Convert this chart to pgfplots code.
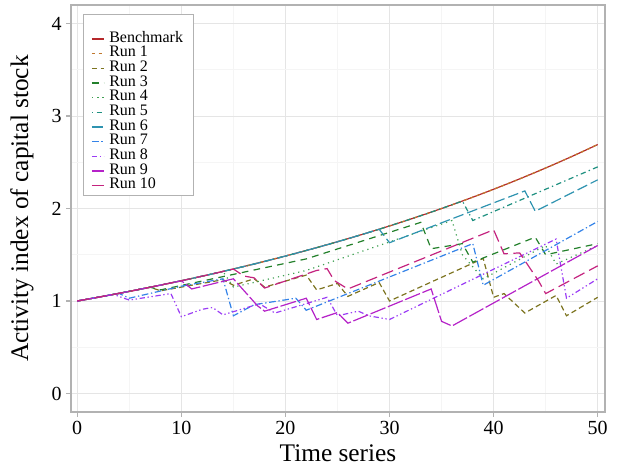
\documentclass[border=0pt]{standalone}
\usepackage{fontspec}
\setmainfont{Liberation Serif}
\usepackage{pgfplots}
\pgfplotsset{compat=1.18}
\definecolor{cB}{HTML}{B5282B}
\definecolor{c1}{HTML}{C0782E}
\definecolor{c2}{HTML}{7D7420}
\definecolor{c3}{HTML}{23802B}
\definecolor{c4}{HTML}{3FA052}
\definecolor{c5}{HTML}{1E9080}
\definecolor{c6}{HTML}{2E93B0}
\definecolor{c7}{HTML}{3483E8}
\definecolor{c8}{HTML}{9B3DF5}
\definecolor{c9}{HTML}{B522C8}
\definecolor{c10}{HTML}{C4237F}
\begin{document}
\begin{tikzpicture}
\begin{axis}[name=ax, scale only axis, width=400.5pt, height=305.25pt,
  xmin=-0.6, xmax=50.7, ymin=-0.2, ymax=4.2,
  xtick={0,10,20,30,40,50}, ytick={0,1,2,3,4},
  minor xtick={5,15,25,35,45}, minor ytick={0.5,1.5,2.5,3.5},
  grid=both, major grid style={color=gray!20, line width=0.6pt},
  minor grid style={color=gray!8, line width=0.5pt},
  axis line style={draw=gray!60, line width=0.8pt},
  tick align=outside, major tick length=3.5pt, minor tick length=0pt,
  tick style={draw=gray!60, line width=0.8pt},
  xtick pos=bottom, ytick pos=left,
  ticklabel style={font=\fontsize{15}{15}\selectfont},
  /pgf/number format/assume math mode=true,
  xlabel={Time series}, ylabel={Activity index of capital stock},
  label style={font=\fontsize{19}{19}\selectfont},
  xlabel style={at={([yshift=-30.75pt]axis description cs:0.5,0)}, anchor=center},
  ylabel style={at={([xshift=-36.75pt]axis description cs:0,0.5)}, anchor=center},
  legend style={at={(0.0225,0.978)}, anchor=north west, draw=gray!60, fill=white,
    font=\fontsize{12}{12}\selectfont, inner xsep=6pt, inner ysep=2.5pt, row sep=1pt,
    column sep=2pt,
    nodes={inner ysep=0pt, inner xsep=1.5pt, text height=7.5pt, text depth=2.5pt}},
  legend cell align=left,
  legend image code/.code={\draw[mark repeat=2,mark phase=2,#1, line width=1pt] plot coordinates {(0pt,0pt) (4.5pt,0pt) (9pt,0pt)};},
  every axis plot/.append style={line width=0.9pt},
]
\addlegendimage{empty legend}\addlegendentry{}
\addplot[cB, solid] coordinates {(0,1.0000)(1,1.0200)(2,1.0404)(3,1.0612)(4,1.0824)(5,1.1041)(6,1.1262)(7,1.1487)(8,1.1717)(9,1.1951)(10,1.2190)(11,1.2434)(12,1.2682)(13,1.2936)(14,1.3195)(15,1.3459)(16,1.3728)(17,1.4002)(18,1.4282)(19,1.4568)(20,1.4859)(21,1.5157)(22,1.5460)(23,1.5769)(24,1.6084)(25,1.6406)(26,1.6734)(27,1.7069)(28,1.7410)(29,1.7758)(30,1.8114)(31,1.8476)(32,1.8845)(33,1.9222)(34,1.9607)(35,1.9999)(36,2.0399)(37,2.0807)(38,2.1223)(39,2.1647)(40,2.2080)(41,2.2522)(42,2.2972)(43,2.3432)(44,2.3901)(45,2.4379)(46,2.4866)(47,2.5363)(48,2.5871)(49,2.6388)(50,2.6916)};
\addlegendentry{Benchmark}
\addplot[c1, dash pattern=on 2.5pt off 2.5pt] coordinates {(0,1.0000)(1,1.0200)(2,1.0404)(3,1.0612)(4,1.0824)(5,1.1041)(6,1.1262)(7,1.1487)(8,1.1717)(9,1.1951)(10,1.2190)(11,1.2434)(12,1.2682)(13,1.2936)(14,1.3195)(15,1.3459)(16,1.3728)(17,1.4002)(18,1.4282)(19,1.4568)(20,1.4859)(21,1.5157)(22,1.5460)(23,1.5769)(24,1.6084)(25,1.6406)(26,1.6734)(27,1.7069)(28,1.7410)(29,1.7758)(30,1.8114)(31,1.8476)(32,1.8845)(33,1.9222)(34,1.9607)(35,1.9999)(36,2.0399)(37,2.0807)(38,2.1223)(39,2.1647)(40,2.2080)(41,2.2522)(42,2.2972)(43,2.3432)(44,2.3901)(45,2.4379)(46,2.4866)(47,2.5363)(48,2.5871)(49,2.6388)(50,2.6916)};
\addlegendentry{Run 1}
\addplot[c2, dash pattern=on 4pt off 2.5pt] coordinates {(0,1.0000)(1,1.0200)(2,1.0404)(3,1.0612)(4,1.0824)(5,1.1041)(6,1.1262)(7,1.1487)(8,1.11)(14,1.23)(15,1.17)(17,1.24)(18,1.15)(22,1.28)(23,1.12)(25,1.19)(26,1.05)(29,1.20)(30,1.00)(39,1.46)(40,1.04)(41,1.08)(43,0.87)(46,1.06)(47,0.84)(50,1.04)};
\addlegendentry{Run 2}
\addplot[c3, dash pattern=on 5pt off 4pt] coordinates {(0,1.0000)(1,1.0200)(2,1.0404)(3,1.0612)(4,1.0824)(5,1.1041)(6,1.1262)(7,1.1487)(8,1.12)(22,1.455)(33,1.85)(34,1.565)(37,1.62)(38,1.42)(44,1.69)(45,1.50)(50,1.62)};
\addlegendentry{Run 3}
\addplot[c4, dash pattern=on 0.9pt off 3pt] coordinates {(0,1.0000)(1,1.0200)(2,1.0404)(3,1.0612)(4,1.0824)(5,1.1041)(6,1.1262)(7,1.1487)(8,1.1717)(9,1.1951)(10,1.2190)(11,1.2434)(12,1.2682)(13,1.2936)(14,1.3195)(15,1.15)(22,1.33)(36,1.87)(37,1.50)(39,1.24)(45,1.60)(46,1.40)(50,1.60)};
\addlegendentry{Run 4}
\addplot[c5, dash pattern=on 1pt off 2.5pt on 4pt off 2.5pt] coordinates {(0,1.0000)(1,1.0200)(2,1.0404)(3,1.0612)(4,1.0824)(5,1.1041)(6,1.1262)(7,1.1487)(8,1.1717)(9,1.1951)(10,1.2190)(11,1.2434)(12,1.2682)(13,1.2936)(14,1.3195)(15,1.3459)(16,1.3728)(17,1.4002)(18,1.4282)(19,1.4568)(20,1.4859)(21,1.5157)(22,1.5460)(23,1.5769)(24,1.6084)(25,1.6406)(26,1.6734)(27,1.7069)(28,1.7410)(29,1.7758)(30,1.8114)(31,1.8476)(32,1.8845)(33,1.9222)(34,1.9607)(35,1.9999)(36,2.0399)(37,2.0807)(38,1.87)(50,2.45)};
\addlegendentry{Run 5}
\addplot[c6, dash pattern=on 8pt off 3pt] coordinates {(0,1.0000)(1,1.0200)(2,1.0404)(3,1.0612)(4,1.0824)(5,1.1041)(6,1.1262)(7,1.1487)(8,1.1717)(9,1.1951)(10,1.2190)(11,1.2434)(12,1.2682)(13,1.2936)(14,1.3195)(15,1.3459)(16,1.3728)(17,1.4002)(18,1.4282)(19,1.4568)(20,1.4859)(21,1.5157)(22,1.5460)(23,1.5769)(24,1.6084)(25,1.6406)(26,1.6734)(27,1.7069)(28,1.7410)(29,1.7758)(30,1.63)(43,2.19)(44,1.97)(50,2.31)};
\addlegendentry{Run 6}
\addplot[c7, dash pattern=on 5pt off 2pt on 1pt off 2pt] coordinates {(0,1.0000)(1,1.0200)(2,1.0404)(3,1.0612)(4,1.0824)(5,1.03)(10,1.16)(14,1.24)(15,0.84)(17,0.96)(21,1.03)(22,0.90)(38,1.62)(39,1.17)(50,1.86)};
\addlegendentry{Run 7}
\addplot[c8, dash pattern=on 4pt off 2pt on 1pt off 2pt on 1pt off 2pt] coordinates {(0,1.0000)(1,1.0200)(2,1.0404)(3,1.0612)(3.5,1.07)(5,1.01)(9,1.08)(10,0.83)(12,0.91)(13,0.93)(14,0.85)(17.5,0.97)(19,0.87)(24,1.04)(25,0.84)(27,0.89)(28,0.84)(30,0.80)(46,1.67)(47,1.03)(50,1.24)};
\addlegendentry{Run 8}
\addplot[c9, dash pattern=on 12pt off 2pt] coordinates {(0,1.0000)(1,1.0200)(2,1.0404)(3,1.0612)(4,1.0824)(5,1.1041)(6,1.1262)(7,1.1487)(8,1.1717)(9,1.1951)(10,1.2190)(11,1.13)(15,1.24)(17.3,0.95)(18,0.89)(22,1.03)(23,0.80)(25,0.875)(26,0.76)(34,1.13)(35,0.78)(36,0.73)(50,1.60)};
\addlegendentry{Run 9}
\addplot[c10, dash pattern=on 9pt off 4pt] coordinates {(0,1.0000)(1,1.0200)(2,1.0404)(3,1.0612)(4,1.0824)(5,1.1041)(6,1.1262)(7,1.1487)(8,1.1717)(9,1.1951)(10,1.2190)(11,1.2434)(12,1.2682)(13,1.2936)(14,1.3195)(15,1.3459)(16,1.27)(17,1.25)(18,1.14)(23,1.33)(24,1.35)(24.7,1.22)(26,1.13)(40,1.77)(41,1.51)(42.5,1.52)(44.3,1.22)(45,1.08)(50,1.38)};
\addlegendentry{Run 10}
\end{axis}
\pgfresetboundingbox
\path[use as bounding box] ([xshift=-53.25pt,yshift=-40.5pt]ax.south west) rectangle ([xshift=10.5pt,yshift=3.75pt]ax.north east);
\end{tikzpicture}
\end{document}
